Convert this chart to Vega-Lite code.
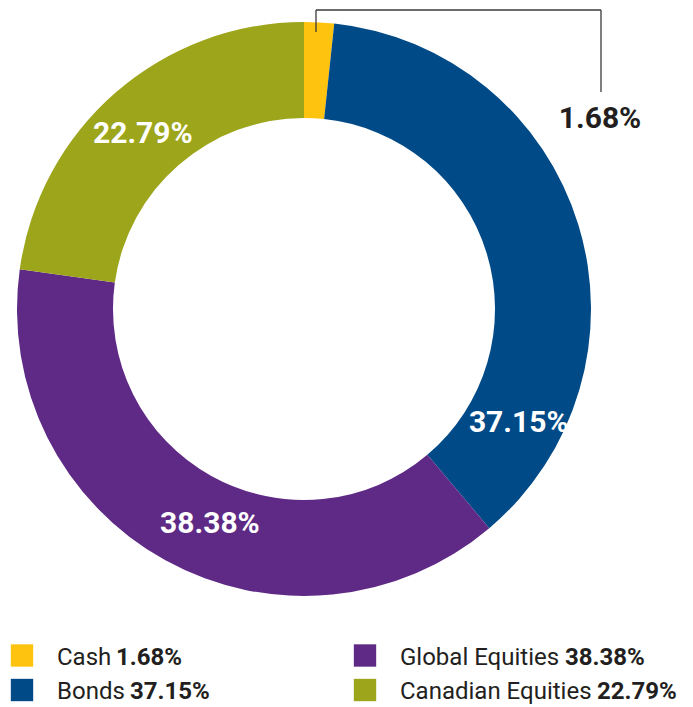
{
  "$schema": "https://vega.github.io/schema/vega-lite/v6.json",
  "width": 693,
  "height": 707,
  "autosize": {"type": "none"},
  "padding": 0,
  "background": "#ffffff",
  "config": {"view": {"stroke": null}},
  "data": {
    "values": [
      {"category": "Cash", "value": 1.68, "label": "1.68%", "idx": 1},
      {"category": "Bonds", "value": 37.15, "label": "37.15%", "idx": 2},
      {"category": "Global Equities", "value": 38.38, "label": "38.38%", "idx": 3},
      {"category": "Canadian Equities", "value": 22.79, "label": "22.79%", "idx": 4}
    ]
  },
  "layer": [
    {
      "mark": {"type": "arc", "outerRadius": 287, "innerRadius": 191},
      "encoding": {
        "theta": {"field": "value", "type": "quantitative", "stack": true},
        "order": {"field": "idx", "type": "quantitative"},
        "color": {"field": "category", "type": "nominal", "legend": null,
          "scale": {"domain": ["Cash", "Bonds", "Global Equities", "Canadian Equities"], "range": ["#FEC30F", "#004A87", "#5F2A86", "#9DA51A"]}},
        "x": {"datum": 304, "type": "quantitative", "axis": null, "scale": {"type": "linear", "domain": [0, 693], "nice": false, "zero": false}},
        "y": {"datum": 309, "type": "quantitative", "axis": null, "scale": {"type": "linear", "domain": [0, 707], "nice": false, "zero": false, "reverse": true}}
      }
    },
    {
      "mark": {"type": "text", "radius": 243, "thetaOffset": 0.785, "font": "Roboto", "fontWeight": "bold", "fontSize": 30, "fill": "#ffffff", "align": "center", "baseline": "middle"},
      "encoding": {
        "theta": {"field": "value", "type": "quantitative", "stack": true},
        "order": {"field": "idx", "type": "quantitative"},
        "text": {"condition": {"test": "datum.category === 'Bonds'", "field": "label"}, "value": ""},
        "x": {"datum": 304, "type": "quantitative", "axis": null, "scale": {"type": "linear", "domain": [0, 693], "nice": false, "zero": false}},
        "y": {"datum": 309, "type": "quantitative", "axis": null, "scale": {"type": "linear", "domain": [0, 707], "nice": false, "zero": false, "reverse": true}}
      }
    },
    {
      "mark": {"type": "text", "radius": 235, "thetaOffset": -0.092, "font": "Roboto", "fontWeight": "bold", "fontSize": 30, "fill": "#ffffff", "align": "center", "baseline": "middle"},
      "encoding": {
        "theta": {"field": "value", "type": "quantitative", "stack": true},
        "order": {"field": "idx", "type": "quantitative"},
        "text": {"condition": {"test": "datum.category === 'Global Equities'", "field": "label"}, "value": ""},
        "x": {"datum": 304, "type": "quantitative", "axis": null, "scale": {"type": "linear", "domain": [0, 693], "nice": false, "zero": false}},
        "y": {"datum": 309, "type": "quantitative", "axis": null, "scale": {"type": "linear", "domain": [0, 707], "nice": false, "zero": false, "reverse": true}}
      }
    },
    {
      "mark": {"type": "text", "radius": 238, "thetaOffset": -0.028, "font": "Roboto", "fontWeight": "bold", "fontSize": 30, "fill": "#ffffff", "align": "center", "baseline": "middle"},
      "encoding": {
        "theta": {"field": "value", "type": "quantitative", "stack": true},
        "order": {"field": "idx", "type": "quantitative"},
        "text": {"condition": {"test": "datum.category === 'Canadian Equities'", "field": "label"}, "value": ""},
        "x": {"datum": 304, "type": "quantitative", "axis": null, "scale": {"type": "linear", "domain": [0, 693], "nice": false, "zero": false}},
        "y": {"datum": 309, "type": "quantitative", "axis": null, "scale": {"type": "linear", "domain": [0, 707], "nice": false, "zero": false, "reverse": true}}
      }
    },
    {
      "mark": {"type": "text", "font": "Roboto", "fontWeight": "bold", "fontSize": 30, "fill": "#231F20", "align": "center", "baseline": "middle"},
      "encoding": {
        "text": {"condition": {"test": "datum.category === 'Cash'", "field": "label"}, "value": ""},
        "x": {"datum": 600, "type": "quantitative", "axis": null, "scale": {"type": "linear", "domain": [0, 693], "nice": false, "zero": false}},
        "y": {"datum": 119, "type": "quantitative", "axis": null, "scale": {"type": "linear", "domain": [0, 707], "nice": false, "zero": false, "reverse": true}}
      }
    },
    {
      "data": {"values": [{"seg": "leader"}]},
      "layer": [
        {
          "mark": {"type": "rule", "color": "#3A3A3C", "strokeWidth": 1.3},
          "encoding": {
            "x": {"datum": 316, "type": "quantitative", "axis": null, "scale": {"type": "linear", "domain": [0, 693], "nice": false, "zero": false}},
            "y": {"datum": 32, "type": "quantitative", "axis": null, "scale": {"type": "linear", "domain": [0, 707], "nice": false, "zero": false, "reverse": true}},
            "y2": {"datum": 10}
          }
        },
        {
          "mark": {"type": "rule", "color": "#3A3A3C", "strokeWidth": 1.3},
          "encoding": {
            "x": {"datum": 316, "type": "quantitative", "axis": null, "scale": {"type": "linear", "domain": [0, 693], "nice": false, "zero": false}},
            "x2": {"datum": 601},
            "y": {"datum": 10, "type": "quantitative", "axis": null, "scale": {"type": "linear", "domain": [0, 707], "nice": false, "zero": false, "reverse": true}}
          }
        },
        {
          "mark": {"type": "rule", "color": "#3A3A3C", "strokeWidth": 1.3},
          "encoding": {
            "x": {"datum": 601, "type": "quantitative", "axis": null, "scale": {"type": "linear", "domain": [0, 693], "nice": false, "zero": false}},
            "y": {"datum": 10, "type": "quantitative", "axis": null, "scale": {"type": "linear", "domain": [0, 707], "nice": false, "zero": false, "reverse": true}},
            "y2": {"datum": 92}
          }
        }
      ]
    },
    {
      "transform": [{"filter": "datum.category === 'Cash'"}],
      "layer": [
        {
          "mark": {"type": "square", "size": 500, "opacity": 1},
          "encoding": {
            "color": {"field": "category", "type": "nominal", "legend": null},
            "x": {"datum": 22, "type": "quantitative", "axis": null, "scale": {"type": "linear", "domain": [0, 693], "nice": false, "zero": false}},
            "y": {"datum": 655.5, "type": "quantitative", "axis": null, "scale": {"type": "linear", "domain": [0, 707], "nice": false, "zero": false, "reverse": true}}
          }
        },
        {
          "mark": {"type": "text", "font": "Roboto", "fontSize": 24, "fill": "#231F20", "align": "left", "baseline": "alphabetic"},
          "encoding": {
            "text": {"field": "category"},
            "x": {"datum": 57, "type": "quantitative", "axis": null, "scale": {"type": "linear", "domain": [0, 693], "nice": false, "zero": false}},
            "y": {"datum": 665, "type": "quantitative", "axis": null, "scale": {"type": "linear", "domain": [0, 707], "nice": false, "zero": false, "reverse": true}}
          }
        },
        {
          "mark": {"type": "text", "font": "Roboto", "fontSize": 24, "fontWeight": "bold", "fill": "#231F20", "align": "left", "baseline": "alphabetic"},
          "encoding": {
            "text": {"field": "label"},
            "x": {"datum": 116, "type": "quantitative", "axis": null, "scale": {"type": "linear", "domain": [0, 693], "nice": false, "zero": false}},
            "y": {"datum": 665, "type": "quantitative", "axis": null, "scale": {"type": "linear", "domain": [0, 707], "nice": false, "zero": false, "reverse": true}}
          }
        }
      ]
    },
    {
      "transform": [{"filter": "datum.category === 'Bonds'"}],
      "layer": [
        {
          "mark": {"type": "square", "size": 500, "opacity": 1},
          "encoding": {
            "color": {"field": "category", "type": "nominal", "legend": null},
            "x": {"datum": 22, "type": "quantitative", "axis": null, "scale": {"type": "linear", "domain": [0, 693], "nice": false, "zero": false}},
            "y": {"datum": 690, "type": "quantitative", "axis": null, "scale": {"type": "linear", "domain": [0, 707], "nice": false, "zero": false, "reverse": true}}
          }
        },
        {
          "mark": {"type": "text", "font": "Roboto", "fontSize": 24, "fill": "#231F20", "align": "left", "baseline": "alphabetic"},
          "encoding": {
            "text": {"field": "category"},
            "x": {"datum": 57, "type": "quantitative", "axis": null, "scale": {"type": "linear", "domain": [0, 693], "nice": false, "zero": false}},
            "y": {"datum": 699, "type": "quantitative", "axis": null, "scale": {"type": "linear", "domain": [0, 707], "nice": false, "zero": false, "reverse": true}}
          }
        },
        {
          "mark": {"type": "text", "font": "Roboto", "fontSize": 24, "fontWeight": "bold", "fill": "#231F20", "align": "left", "baseline": "alphabetic"},
          "encoding": {
            "text": {"field": "label"},
            "x": {"datum": 130, "type": "quantitative", "axis": null, "scale": {"type": "linear", "domain": [0, 693], "nice": false, "zero": false}},
            "y": {"datum": 699, "type": "quantitative", "axis": null, "scale": {"type": "linear", "domain": [0, 707], "nice": false, "zero": false, "reverse": true}}
          }
        }
      ]
    },
    {
      "transform": [{"filter": "datum.category === 'Global Equities'"}],
      "layer": [
        {
          "mark": {"type": "square", "size": 500, "opacity": 1},
          "encoding": {
            "color": {"field": "category", "type": "nominal", "legend": null},
            "x": {"datum": 365, "type": "quantitative", "axis": null, "scale": {"type": "linear", "domain": [0, 693], "nice": false, "zero": false}},
            "y": {"datum": 655.5, "type": "quantitative", "axis": null, "scale": {"type": "linear", "domain": [0, 707], "nice": false, "zero": false, "reverse": true}}
          }
        },
        {
          "mark": {"type": "text", "font": "Roboto", "fontSize": 24, "fill": "#231F20", "align": "left", "baseline": "alphabetic"},
          "encoding": {
            "text": {"field": "category"},
            "x": {"datum": 400, "type": "quantitative", "axis": null, "scale": {"type": "linear", "domain": [0, 693], "nice": false, "zero": false}},
            "y": {"datum": 665, "type": "quantitative", "axis": null, "scale": {"type": "linear", "domain": [0, 707], "nice": false, "zero": false, "reverse": true}}
          }
        },
        {
          "mark": {"type": "text", "font": "Roboto", "fontSize": 24, "fontWeight": "bold", "fill": "#231F20", "align": "left", "baseline": "alphabetic"},
          "encoding": {
            "text": {"field": "label"},
            "x": {"datum": 565, "type": "quantitative", "axis": null, "scale": {"type": "linear", "domain": [0, 693], "nice": false, "zero": false}},
            "y": {"datum": 665, "type": "quantitative", "axis": null, "scale": {"type": "linear", "domain": [0, 707], "nice": false, "zero": false, "reverse": true}}
          }
        }
      ]
    },
    {
      "transform": [{"filter": "datum.category === 'Canadian Equities'"}],
      "layer": [
        {
          "mark": {"type": "square", "size": 500, "opacity": 1},
          "encoding": {
            "color": {"field": "category", "type": "nominal", "legend": null},
            "x": {"datum": 365, "type": "quantitative", "axis": null, "scale": {"type": "linear", "domain": [0, 693], "nice": false, "zero": false}},
            "y": {"datum": 690, "type": "quantitative", "axis": null, "scale": {"type": "linear", "domain": [0, 707], "nice": false, "zero": false, "reverse": true}}
          }
        },
        {
          "mark": {"type": "text", "font": "Roboto", "fontSize": 24, "fill": "#231F20", "align": "left", "baseline": "alphabetic"},
          "encoding": {
            "text": {"field": "category"},
            "x": {"datum": 400, "type": "quantitative", "axis": null, "scale": {"type": "linear", "domain": [0, 693], "nice": false, "zero": false}},
            "y": {"datum": 699, "type": "quantitative", "axis": null, "scale": {"type": "linear", "domain": [0, 707], "nice": false, "zero": false, "reverse": true}}
          }
        },
        {
          "mark": {"type": "text", "font": "Roboto", "fontSize": 24, "fontWeight": "bold", "fill": "#231F20", "align": "left", "baseline": "alphabetic"},
          "encoding": {
            "text": {"field": "label"},
            "x": {"datum": 597, "type": "quantitative", "axis": null, "scale": {"type": "linear", "domain": [0, 693], "nice": false, "zero": false}},
            "y": {"datum": 699, "type": "quantitative", "axis": null, "scale": {"type": "linear", "domain": [0, 707], "nice": false, "zero": false, "reverse": true}}
          }
        }
      ]
    }
  ]
}
